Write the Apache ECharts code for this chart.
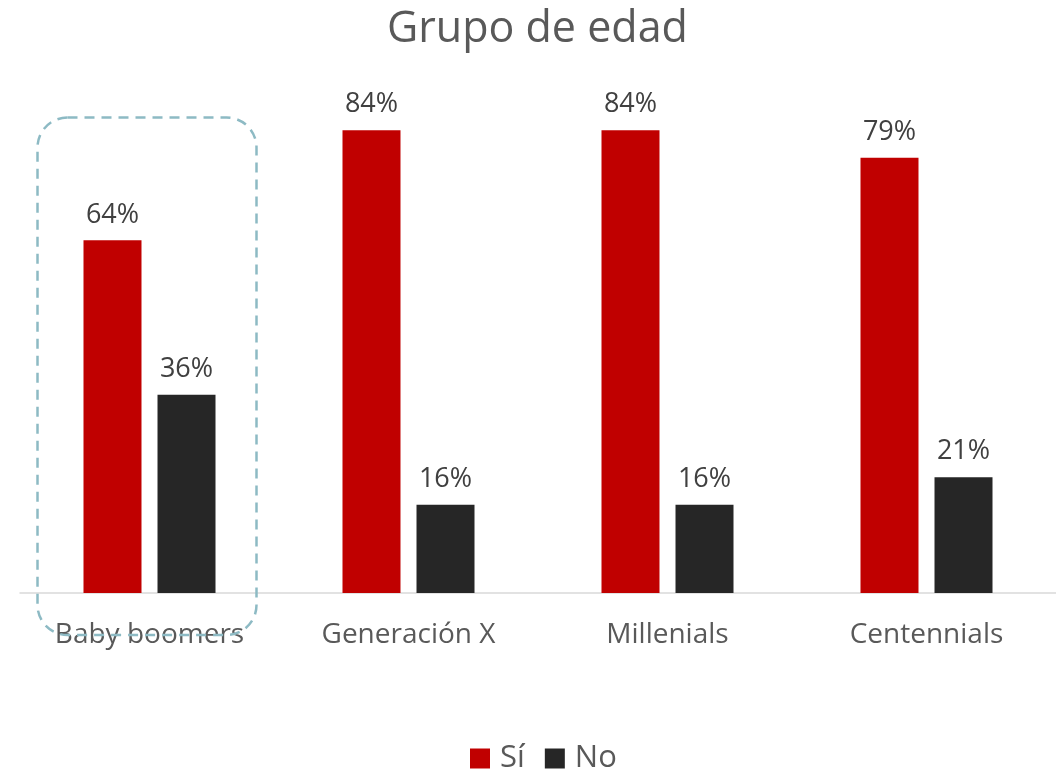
<!DOCTYPE html>
<html>
<head>
<meta charset="utf-8">
<script src="https://cdn.jsdelivr.net/npm/echarts@6/dist/echarts.min.js"></script>
<style>
  html, body { margin: 0; padding: 0; background: #fff; }
  #chart { width: 1056px; height: 771px; }
</style>
</head>
<body>
<div id="chart"></div>
<script>
// datos
const categorias = ['Baby boomers', 'Generación X', 'Millenials', 'Centennials'];
const si = [64, 84, 84, 79];
const no = [36, 16, 16, 21];

const fuente = '"Open Sans", "Noto Sans", sans-serif';

const chart = echarts.init(document.getElementById('chart'));

const option = {
    animation: false,
    backgroundColor: '#fff',
    textStyle: { fontFamily: fuente },
    title: {
        text: 'Grupo de edad',
        left: 382,
        top: 3,
        textStyle: { fontSize: 43, fontWeight: 'normal', color: '#595959', fontFamily: fuente }
    },
    legend: {
        top: 738,
        left: 465,
        itemWidth: 20,
        itemHeight: 20,
        itemGap: 20,
        icon: 'rect',
        textStyle: { fontSize: 31, color: '#595959', fontFamily: fuente, padding: [0, 0, 0, 5] },
        data: ['Sí', 'No']
    },
    grid: { left: 20, right: 0, top: 42, bottom: 178 },
    xAxis: {
        type: 'category',
        data: categorias,
        axisLine: { lineStyle: { color: '#d9d9d9', width: 1.5 } },
        axisTick: { show: false },
        axisLabel: { fontSize: 28, color: '#595959', margin: 28, fontFamily: fuente }
    },
    yAxis: {
        type: 'value',
        min: 0,
        max: 100,
        show: false,
        splitLine: { show: false }
    },
    series: [
        {
            name: 'Sí',
            type: 'bar',
            data: si,
            barWidth: 58,
            barGap: '27.6%',
            itemStyle: { color: '#c00000' },
            label: {
                show: true, position: 'top', distance: 12,
                formatter: '{c}%', fontSize: 27, color: '#404040', fontFamily: fuente
            }
        },
        {
            name: 'No',
            type: 'bar',
            data: no,
            barWidth: 58,
            itemStyle: { color: '#262626' },
            label: {
                show: true, position: 'top', distance: 12,
                formatter: '{c}%', fontSize: 27, color: '#404040', fontFamily: fuente
            }
        }
    ]
};

chart.setOption(option);

// recuadro punteado alrededor de Baby boomers
const centro = chart.convertToPixel({ xAxisIndex: 0 }, categorias[0]);
const arriba = chart.convertToPixel({ yAxisIndex: 0 }, 86.3);
const base = chart.convertToPixel({ yAxisIndex: 0 }, 0);
chart.setOption({
    graphic: [{
        type: 'rect',
        z: 100,
        shape: { x: centro - 112, y: arriba, width: 219, height: base + 42 - arriba, r: 30 },
        style: { fill: 'none', stroke: '#8dbac4', lineWidth: 2.5, lineDash: [10, 7] }
    }]
});
</script>
</body>
</html>
